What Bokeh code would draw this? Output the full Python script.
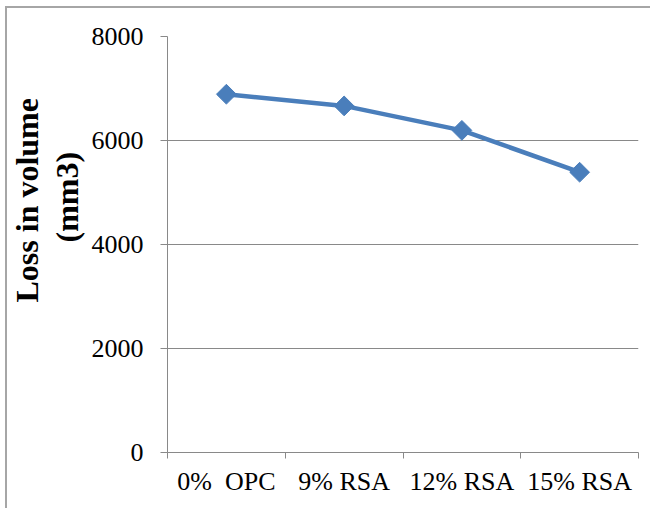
import math
from bokeh.plotting import figure
from bokeh.models import Range1d, FixedTicker, Title, ColumnDataSource
from bokeh.embed import file_html
from bokeh.resources import INLINE

# ---- data ----
categories = ["0%\u00a0 OPC", "9% RSA", "12% RSA", "15% RSA"]
loss_volume = [6890, 6665, 6195, 5390]
y_ticks = [0, 2000, 4000, 6000, 8000]
y_title_lines = ["Loss in volume", "(mm3)"]

BLUE = "#4A7EBB"
GRID = "#898989"
FONT = "Liberation Serif"

W, H = 643, 500
L, R, T, B = 160, 14, 28, 58
p = figure(width=W, height=H, output_backend="svg", toolbar_location=None,
           x_range=Range1d(0, len(categories)), y_range=Range1d(y_ticks[0], y_ticks[-1]),
           min_border_left=L, min_border_right=R, min_border_top=T, min_border_bottom=B)
p.styles = {"margin-left": "5px", "margin-top": "6px",
            "border-left": "2px solid #a6a6a6", "border-top": "2px solid #a6a6a6",
            "box-sizing": "content-box"}
p.outline_line_color = None
p.background_fill_color = "white"
p.border_fill_color = "white"

xs = [i + 0.5 for i in range(len(categories))]
src = ColumnDataSource(dict(x=xs, y=loss_volume))
p.line("x", "y", source=src, line_color=BLUE, line_width=4.5)
p.scatter("x", "y", source=src, marker="square", angle=math.pi / 4, size=14,
          fill_color=BLUE, line_color=BLUE)

# x axis: category labels at centres, tick marks at boundaries (minor ticks)
xa = p.xaxis[0]
xa.ticker = FixedTicker(ticks=xs, minor_ticks=list(range(len(categories) + 1)))
xa.major_label_overrides = {x: c for x, c in zip(xs, categories)}
xa.major_tick_out = 0
xa.major_tick_in = 0
xa.minor_tick_out = 6
xa.minor_tick_in = 0
xa.minor_tick_line_color = GRID
xa.axis_line_color = GRID
xa.major_label_text_font = FONT
xa.major_label_text_font_size = "26px"
xa.major_label_text_color = "black"
xa.major_label_standoff = 8
p.xgrid.visible = False

ya = p.yaxis[0]
ya.ticker = FixedTicker(ticks=y_ticks, minor_ticks=[])
ya.major_tick_out = 7
ya.major_tick_in = 0
ya.major_tick_line_color = GRID
ya.axis_line_color = GRID
ya.major_label_text_font = FONT
ya.major_label_text_font_size = "26px"
ya.major_label_text_color = "black"
ya.major_label_standoff = 17
p.ygrid.ticker = FixedTicker(ticks=y_ticks)
p.ygrid.grid_line_color = GRID
p.ygrid.grid_line_width = 1

# two-line bold y title, placed as stacked left-side titles
offsets = [150, 210]
standoffs = [-2, 7]
for line, off, so in reversed(list(zip(y_title_lines, offsets, standoffs))):
    p.add_layout(Title(text=line, align="left", offset=off, standoff=so,
                       text_font=FONT, text_font_style="bold",
                       text_font_size="32px", text_color="black"), "left")

open("out.html", "w").write(file_html(p, INLINE))
